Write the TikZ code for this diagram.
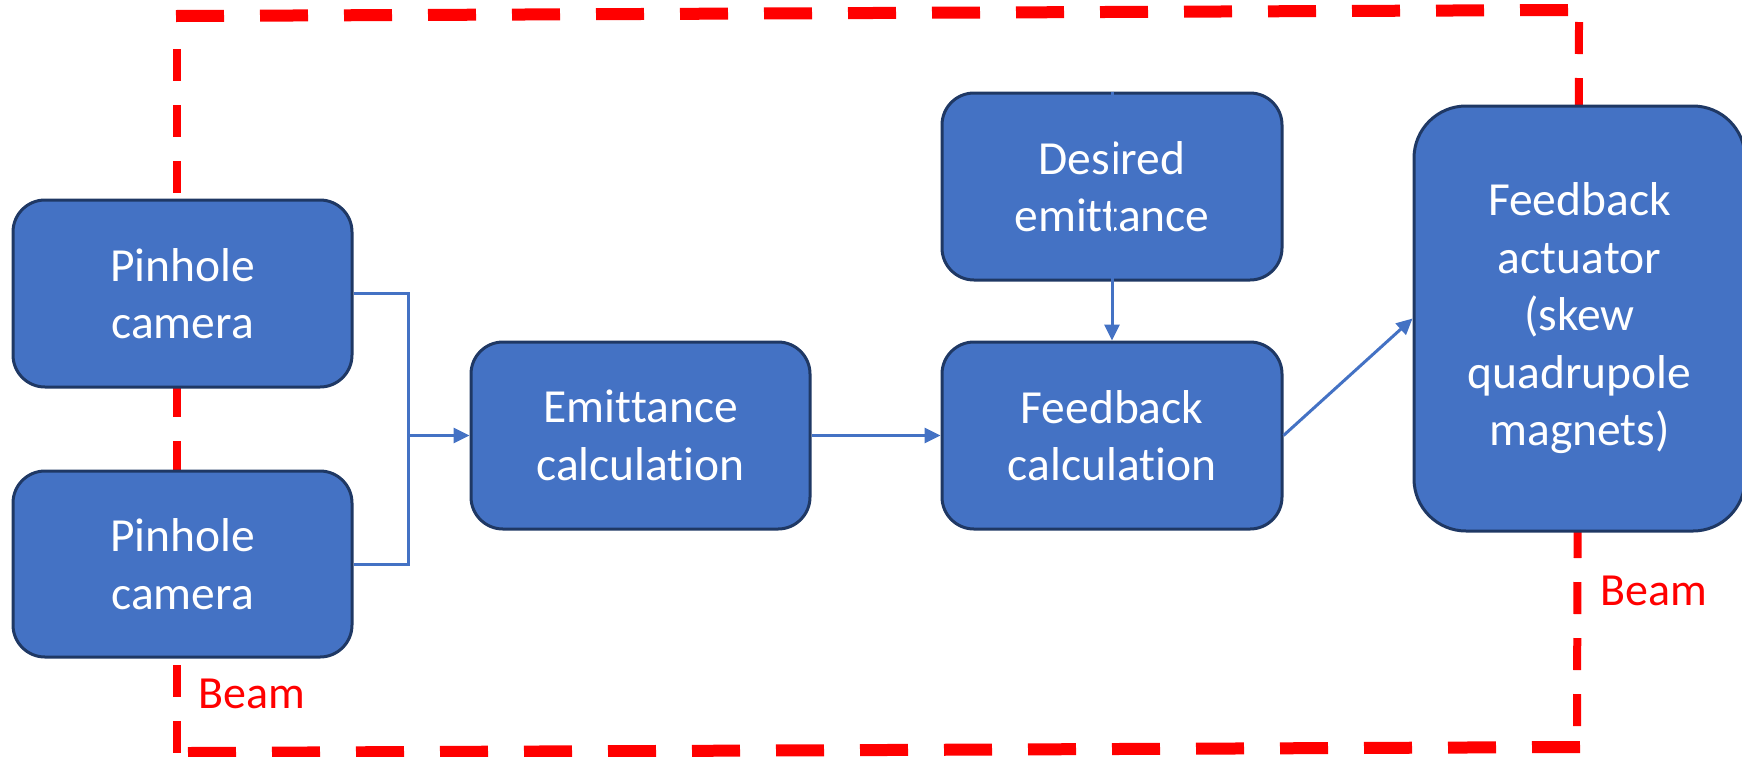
\documentclass[tikz,border=0pt]{standalone}
\usepackage{fontspec}
\setmainfont{Carlito}[Ligatures=NoCommon,Contextuals=NoAlternate]
\usetikzlibrary{arrows.meta}
\definecolor{boxblue}{HTML}{4472C4}
\definecolor{boxedge}{HTML}{1F3864}
\definecolor{beamred}{HTML}{FF0000}
\tikzset{
  box/.style={draw=boxedge, line width=3pt, fill=boxblue, rounded corners=32pt,
    text=white, align=center, inner sep=0pt,
    font=\fontsize{47.5}{57.5}\selectfont},
  conn/.style={draw=boxblue, line width=3pt},
  arr/.style={-{Triangle[length=16pt,width=15pt]}},
  beamthick/.style={draw=beamred, line width=12pt, dash pattern=on 48pt off 36pt},
  beamthin/.style={draw=beamred, line width=8pt, dash pattern=on 32pt off 24pt},
  beamlabel/.style={text=beamred, inner sep=0pt, anchor=base west,
    font=\fontsize{46}{54}\selectfont}
}
\begin{document}
\begin{tikzpicture}[x=1pt,y=-1pt]
\useasboundingbox (0,0) rectangle (1742,756);
% beam loop
\draw[beamthick] (176,16) -- (1568,10);
\draw[beamthin] (177,49) -- (177,753);
\draw[beamthin] (1579,22) -- (1577,726);
\draw[beamthick] (188,753) -- (1580,747);
% boxes
\node[box, minimum width=339pt, minimum height=187pt] (p1) at (182.5,293.5) {Pinhole\\camera};
\node[box, minimum width=339pt, minimum height=186pt] (p2) at (182.5,564) {Pinhole\\camera};
\node[box, minimum width=339pt, minimum height=187pt] (emit) at (640.5,435.5) {Emit\kern0pt tance\\calculation};
\node[box, minimum width=340pt, minimum height=187pt] (fb) at (1112,435.5) {Feedback\\calculation};
\node[box, minimum width=340pt, minimum height=187pt] (des) at (1112,186.5) {Desired\\emit\kern0pt tance};
\node[box, rounded corners=52pt, minimum width=331pt, minimum height=425pt] (act) at (1579.5,318.5) {Feedback\\actuator\\(skew\\quadrupole\\magnets)};
% labels
\node[beamlabel] (b1) at (198,708) {Beam};
\node[beamlabel] (b2) at (1600,605) {Beam};
% connectors
\path (emit.west) ++(-61,0) coordinate (j);
\draw[conn] (p1.east) -| (j) |- (p2.east);
\draw[conn,arr] (j) -- (emit.west);
\draw[conn,arr] (emit.east) -- (fb.west);
\draw[conn,arr] (des.north) -- (fb.north);
\draw[conn,arr] (fb.east) -- (act.west);
\end{tikzpicture}
\end{document}
